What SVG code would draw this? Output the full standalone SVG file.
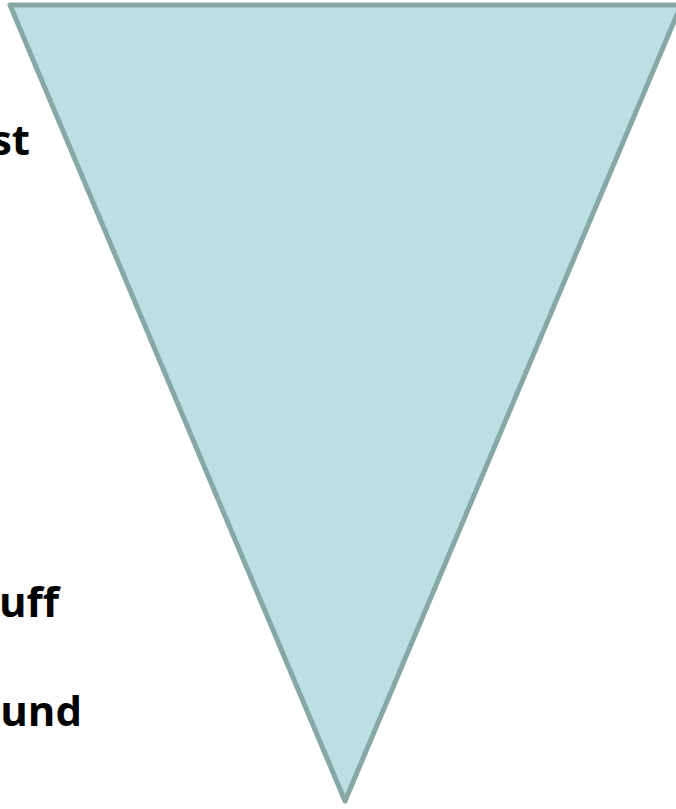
<svg xmlns="http://www.w3.org/2000/svg" width="676" height="809" viewBox="0 0 676 809">
<style>
.lbl{font-family:"Open Sans","Noto Sans","DejaVu Sans",sans-serif;font-weight:bold;font-size:42px;fill:#000;text-anchor:end}
.tri{fill:#bbe0e3;stroke:#88a8a8;stroke-width:5;stroke-linejoin:round}
</style>
<rect width="676" height="809" fill="#fff"/>
<g id="funnel">
<polygon class="tri" points="10,5 681,5 345,801"/>
</g>
<g id="labels">
<text class="lbl" x="30" y="155">st</text>
<text class="lbl" x="59" y="617">uff</text>
<text class="lbl" x="82" y="726">und</text>
</g>
</svg>
